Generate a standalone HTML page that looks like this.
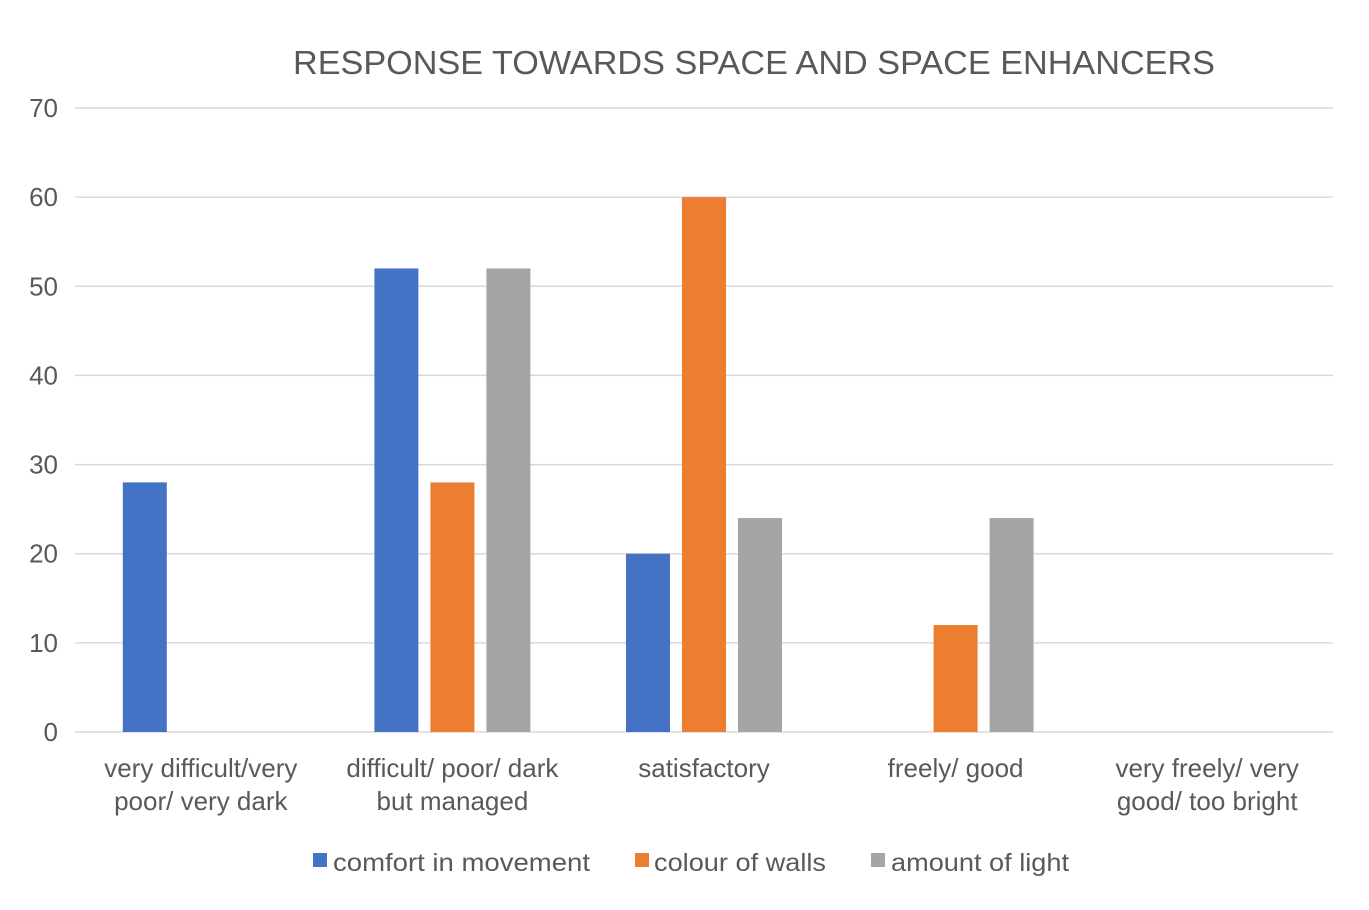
<!DOCTYPE html>
<html><head><meta charset="utf-8"><style>
body{margin:0;background:#fff}
svg{display:block;font-family:"Liberation Sans",sans-serif}
</style></head><body>
<svg id="chart" width="1369" height="910" viewBox="0 0 1369 910">
<rect width="1369" height="910" fill="#fff"/>
<text x="754" y="74" text-anchor="middle" font-size="33" fill="#595959" textLength="922" lengthAdjust="spacingAndGlyphs">RESPONSE TOWARDS SPACE AND SPACE ENHANCERS</text>
<g id="grid"></g><g id="bars"></g><g id="labels"></g>
<g>
<rect x="313" y="853" width="14" height="14" fill="#4472C4"/>
<text x="333" y="871" font-size="25" fill="#595959" textLength="257" lengthAdjust="spacingAndGlyphs">comfort in movement</text>
<rect x="635" y="853" width="14" height="14" fill="#ED7D31"/>
<text x="654" y="871" font-size="25" fill="#595959" textLength="172" lengthAdjust="spacingAndGlyphs">colour of walls</text>
<rect x="871" y="853" width="14" height="14" fill="#A5A5A5"/>
<text x="891" y="871" font-size="25" fill="#595959" textLength="178" lengthAdjust="spacingAndGlyphs">amount of light</text>
</g>
</svg>
<script>
const categories=[["very difficult/very","poor/ very dark"],["difficult/ poor/ dark","but managed"],["satisfactory"],["freely/ good"],["very freely/ very","good/ too bright"]];
const comfort=[28,52,20,0,0];
const walls=[0,28,60,12,0];
const light=[0,52,24,24,0];
const yTicks=[0,10,20,30,40,50,60,70];
const NS="http://www.w3.org/2000/svg";
const x0=75,x1=1333,yB=732,yT=108,yMax=70;
const y=v=>yB-(v/yMax)*(yB-yT);
const cw=(x1-x0)/categories.length;
const cx=i=>x0+cw*(i+0.5);
function mk(t,a,p){const e=document.createElementNS(NS,t);for(const k in a)e.setAttribute(k,a[k]);p.appendChild(e);return e;}
const grid=document.getElementById('grid'),bars=document.getElementById('bars'),labels=document.getElementById('labels');
yTicks.forEach(v=>{
 const l=mk('line',{x1:x0,x2:x1,y1:y(v),y2:y(v),stroke:'#d9d9d9','stroke-width':1.5},grid);
 
 
 const t=mk('text',{x:58,y:y(v)+9,'text-anchor':'end','font-size':26,fill:'#595959'},labels);
 t.textContent=v;
 
 
});
const series=[[comfort,'#4472C4','comfort'],[walls,'#ED7D31','walls'],[light,'#A5A5A5','light']];
const bw=44,gap=12;
categories.forEach((c,i)=>{
 series.forEach((s,j)=>{
  const v=s[0][i]; if(!v)return;
  const bx=cx(i)-78+j*(bw+gap);
  const r=mk('rect',{x:bx,y:y(v),width:bw,height:yB-y(v),fill:s[1]},bars);
  
  
 });
 c.forEach((line,k)=>{
  const t=mk('text',{x:cx(i),y:777+k*33,'text-anchor':'middle','font-size':26,fill:'#595959'},labels);
  t.textContent=line;
  
  
 });
});
</script>
</body></html>
